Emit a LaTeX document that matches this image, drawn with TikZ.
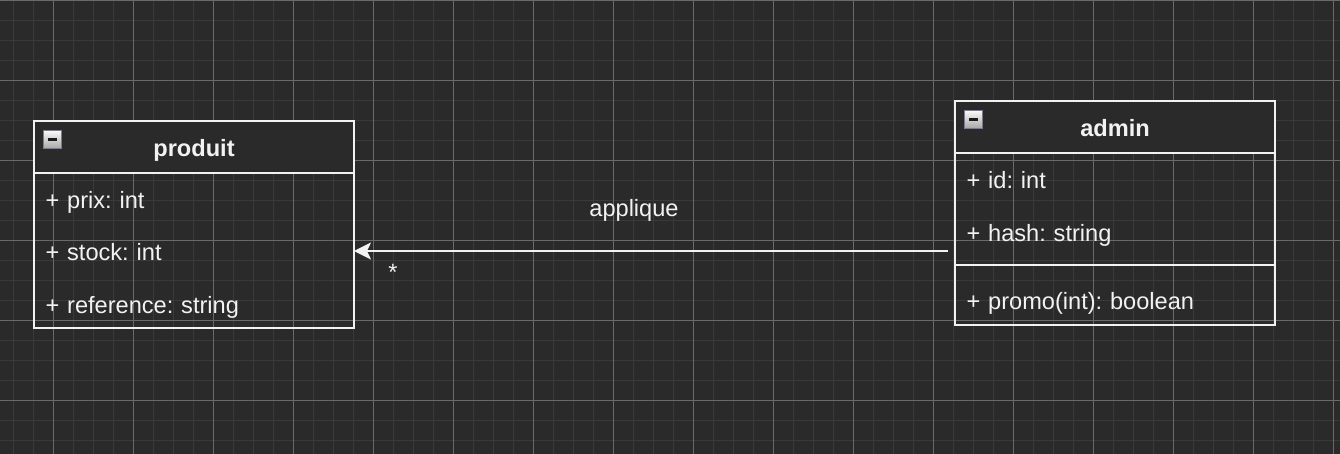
\documentclass[tikz,border=0pt]{standalone}
\usepackage{fontspec}
\setmainfont{Liberation Sans}
\usetikzlibrary{arrows.meta}
\definecolor{bg}{HTML}{2A2A2A}
\definecolor{gridminor}{HTML}{3A3A3A}
\definecolor{gridmajor}{HTML}{6A6A6A}
\definecolor{fg}{HTML}{F2F2F2}
\definecolor{iconborder}{HTML}{7C7C8C}
\definecolor{icontop}{HTML}{F8F8F8}
\definecolor{iconbot}{HTML}{A8A8A8}
\newcommand\uifont{\fontsize{23.6}{28}\selectfont\frenchspacing}
\begin{document}
\begin{tikzpicture}[x=1pt,y=-1pt,
  umlbox/.style={draw=fg,line width=1.8pt,minimum width=320pt,inner sep=0pt,outer sep=0pt,anchor=north west},
  umlhead/.style={fill=bg,minimum width=320pt,minimum height=52pt,inner sep=0pt,outer sep=0pt,anchor=north west,
    font=\uifont\bfseries,text=fg,text height=22pt,text depth=2pt},
  umlrow/.style={minimum width=320pt,minimum height=52pt,inner xsep=11.5pt,inner ysep=0pt,outer sep=0pt,anchor=north west,
    text width=297pt,align=left,font=\uifont,text=fg,text height=22pt,text depth=2pt},
  umlsep/.style={minimum width=320pt,minimum height=16pt,inner sep=0pt,outer sep=0pt,anchor=north west},
  sepline/.style={draw=fg,line width=1.8pt},
  minusicon/.style={draw=iconborder,line width=1.2pt,top color=icontop,bottom color=iconbot,
    minimum size=17.5pt,inner sep=0pt,anchor=north west,
    path picture={\draw[black!90,line width=2.3pt]
      ([xshift=4pt]path picture bounding box.west) -- ([xshift=-4pt]path picture bounding box.east);}},
  conn/.style={draw=fg,line width=1.8pt,-{Stealth[length=17pt,width=17pt,inset=4pt]}},
  lbl/.style={font=\uifont,text=fg,inner sep=0pt,anchor=base}
]
\fill[bg] (0,0) rectangle (1340,454);
\useasboundingbox (0,0) rectangle (1340,454);
% grid
\foreach \i in {0,...,66} \draw[gridminor,line width=1pt] ({13.5+20*\i},0) -- ({13.5+20*\i},454);
\foreach \i in {0,...,22} \draw[gridminor,line width=1pt] (0,{0.5+20*\i}) -- (1340,{0.5+20*\i});
\foreach \i in {0,...,16} \draw[gridmajor,line width=1pt] ({53.5+80*\i},0) -- ({53.5+80*\i},454);
\foreach \i in {0,...,5} \draw[gridmajor,line width=1pt] (0,{0.5+80*\i}) -- (1340,{0.5+80*\i});

% produit
\node[umlhead] (phead) at (34,121) {produit};
\node[umlrow] (pprix) at (34,173) {+ prix: int};
\node[umlrow] (pstock) at (34,225) {+ stock: int};
\node[umlrow] (pref) at (34,277) {+ reference: string};
\node[umlbox,minimum height=207pt] (produit) at (34,121) {};
\draw[sepline] (phead.south west) -- (phead.south east);
\node[minusicon] (picon) at (43.2,130.2) {};

% admin
\node[umlhead] (ahead) at (955,101) {admin};
\node[umlrow] (aid) at (955,153) {+ id: int};
\node[umlrow] (ahash) at (955,205) {+ hash: string};
\node[umlsep] (asep) at (955,257) {};
\node[umlrow] (apromo) at (955,273) {+ promo(int): boolean};
\node[umlbox,minimum height=224pt] (admin) at (955,101) {};
\draw[sepline] (ahead.south west) -- (ahead.south east);
\draw[sepline] (asep.west) -- (asep.east);
\node[minusicon] (aicon) at (964.2,110.2) {};

% connector
\draw[conn,shorten <=7pt] (admin.west |- pstock.east) -- (pstock.east);
\node[lbl] (lapp) at (634,217) {applique};
\node[lbl] (lstar) at (393,280) {*};
\end{tikzpicture}
\end{document}
